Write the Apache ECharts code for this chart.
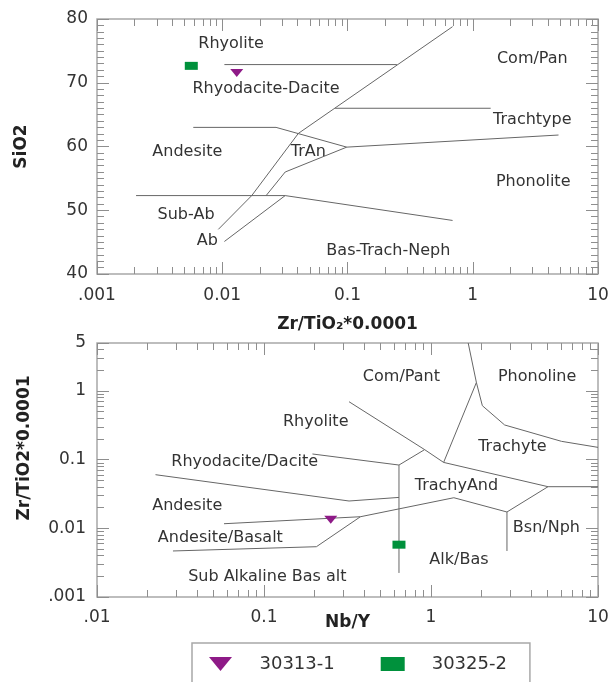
<!DOCTYPE html>
<html><head><meta charset="utf-8">
<script src="https://cdn.jsdelivr.net/npm/echarts@6/dist/echarts.min.js"></script>
<style>html,body{margin:0;padding:0;background:#fff}#c{width:610px;height:682px}</style>
</head><body><div id="c"></div>
<script>
// ---------- Tick labels ----------
const topXTickLabels = ['.001', '0.01', '0.1', '1', '10'];
const topYTickLabels = ['40', '50', '60', '70', '80'];
const botXTickLabels = ['.01', '0.1', '1', '10'];
const botYTickLabels = ['.001', '0.01', '0.1', '1', '5'];

// ---------- Top diagram: SiO2 vs Zr/TiO2*0.0001 (field boundaries) ----------
const topRhyLine       = [[0.0104, 72.85], [0.248, 72.85]];
const topDiagA         = [[0.0093, 47.0], [0.0172, 52.3], [0.0405, 62.05], [0.69, 78.8]];
const topLineB         = [[0.0224, 52.3], [0.0318, 56.0], [0.0986, 59.9]];
const topLineC         = [[0.0104, 45.1], [0.0318, 52.3], [0.69, 48.4]];
const topSubAbLine     = [[0.00205, 52.3], [0.0318, 52.3]];
const topAndesiteLine  = [[0.00587, 63.0], [0.0269, 63.0], [0.0986, 59.9]];
const topPhonoliteLine = [[0.0986, 59.9], [4.84, 61.8]];
const topTrachLine     = [[0.0796, 66.0], [1.39, 66.0]];

const topFieldNames = ['Rhyolite', 'Rhyodacite-Dacite', 'Andesite', 'TrAn', 'Sub-Ab', 'Ab', 'Bas-Trach-Neph', 'Com/Pan', 'Trachtype', 'Phonolite'];
const topFieldX     = [0.01175, 0.02234, 0.00526, 0.0486, 0.00514, 0.0076, 0.212, 2.99, 2.99, 3.04];
const topFieldY     = [76.17, 69.09, 59.1, 59.1, 49.29, 45.24, 43.67, 73.7, 64.25, 54.38];

// ---------- Bottom diagram: Zr/TiO2*0.0001 vs Nb/Y (field boundaries) ----------
const botL1   = [[0.0224, 0.0604], [0.323, 0.025], [0.643, 0.0282]];
const botL2   = [[0.195, 0.121], [0.643, 0.0835], [0.916, 0.140]];
const botVert = [[0.643, 0.0835], [0.643, 0.00224]];
const botL3   = [[0.323, 0.698], [0.916, 0.140], [1.19, 0.0912]];
const botL4   = [[1.19, 0.0912], [5.02, 0.0404], [10, 0.0404]];
const botL5   = [[1.19, 0.0912], [1.87, 1.33], [1.67, 5]];
const botL6   = [[1.87, 1.33], [2.03, 0.611], [2.76, 0.320], [6.04, 0.185], [10, 0.151]];
const botL7   = [[0.0576, 0.01167], [0.378, 0.01476], [1.37, 0.0279], [2.85, 0.0173], [5.02, 0.0404]];
const botBsn  = [[2.85, 0.0173], [2.85, 0.00468]];
const botL9   = [[0.0285, 0.00468], [0.206, 0.0054], [0.378, 0.01476]];

const botFieldNames = ['Com/Pant', 'Phonoline', 'Rhyolite', 'Trachyte', 'Rhyodacite/Dacite', 'TrachyAnd', 'Andesite', 'Bsn/Nph', 'Andesite/Basalt', 'Alk/Bas', 'Sub Alkaline Bas alt'];
const botFieldX     = [0.665, 4.32, 0.204, 3.07, 0.0766, 1.42, 0.0347, 4.91, 0.0548, 1.47, 0.1047];
const botFieldY     = [1.60, 1.60, 0.353, 0.153, 0.0925, 0.0418, 0.0216, 0.0101, 0.00731, 0.00349, 0.00195];

// ---------- Samples ----------
const sampleNames = ['30313-1', '30325-2'];
const topSampleX = [0.01306, 0.00566];
const topSampleY = [71.53, 72.65];
const botSampleX = [0.251, 0.643];
const botSampleY = [0.0133, 0.00578];

// ---------- helpers ----------
const FONT = 'DejaVu Sans';
const LINE_COLOR = '#666666';
const FRAME = '#a8a8a8';
const TICK = '#8e8e8e';
const PURPLE = '#8e1a87';
const GREEN = '#00913c';
const TRI = 'path://M0,0L23,0L11.5,14Z';
const TRI_S = 'path://M0,0L13,0L6.5,8Z';
const MAJOR_LEN = 12, MINOR_LEN = 7;

function tickStyle(len) { return { show: true, inside: true, length: len, lineStyle: { color: TICK, width: 1 } }; }
function minorStyle() { return { show: true, splitNumber: 10, length: MINOR_LEN, lineStyle: { color: TICK, width: 1 } }; }

// log10 positions of the 2..9 minor ticks of each decade
function logMinorPos(fromExp, toExp, lastMax) {
  const out = [];
  for (let e = fromExp; e <= toExp; e++) {
    for (let k = 2; k <= 9; k++) {
      const v = k * Math.pow(10, e);
      if (lastMax === undefined || v < lastMax) out.push(Math.log10(v));
    }
  }
  return out;
}
function range(a, b) { const r = []; for (let i = a; i <= b; i++) r.push(i); return r; }

// hidden anchor axis: its zero sits exactly on one edge of the grid
function anchorAxis(gridIndex, min, max) {
  return { type: 'value', gridIndex: gridIndex, min: min, max: max,
    axisLine: { show: false, onZero: false }, axisTick: { show: false }, axisLabel: { show: false }, splitLine: { show: false } };
}
// overlay axis (log10 space) that only draws inward ticks; it is placed on the edge through an anchor axis
function tickAxis(gridIndex, position, min, max, values, len, anchorIndex) {
  const t = tickStyle(len);
  t.customValues = values;
  return {
    type: 'value', gridIndex: gridIndex, position: position, min: min, max: max,
    axisLine: { show: false, onZero: true, onZeroAxisIndex: anchorIndex },
    axisLabel: { show: false }, splitLine: { show: false }, axisTick: t
  };
}
function boundary(xi, yi, data) {
  return { type: 'line', xAxisIndex: xi, yAxisIndex: yi, data: data, showSymbol: false, symbol: 'none', silent: true,
    lineStyle: { color: LINE_COLOR, width: 1 }, z: 2 };
}
function fieldLabels(xi, yi, names, xs, ys) {
  return { type: 'scatter', xAxisIndex: xi, yAxisIndex: yi, symbolSize: 0, silent: true, z: 3,
    itemStyle: { opacity: 1 },
    data: names.map((n, i) => ({ name: n, value: [xs[i], ys[i]] })),
    label: { show: true, position: 'inside', formatter: '{b}', color: '#333', fontSize: 16, fontFamily: FONT } };
}
function labelFmt(list, vals) {
  return function (v) {
    for (let i = 0; i < vals.length; i++) if (Math.abs(v - vals[i]) <= Math.abs(vals[i]) * 1e-6) return list[i];
    return '';
  };
}

const topXVals = [0.001, 0.01, 0.1, 1, 10];
const topYVals = [40, 50, 60, 70, 80];
const botXVals = [0.01, 0.1, 1, 10];
const botYVals = [0.001, 0.01, 0.1, 1, 5];

function tickLabelStyle(margin, fmt) { return { margin: margin, formatter: fmt, color: '#333', fontSize: 17, fontFamily: FONT }; }
function nameStyle(extra) { return Object.assign({ color: '#222', fontSize: 17, fontWeight: 'bold', fontFamily: FONT }, extra || {}); }

const LOG5 = Math.log10(5);

// axis index plan
// xAxis: 0 top main, 1-4 top tick overlays, 5 top left-anchor, 6 top right-anchor,
//        7 bottom main, 8-11 bottom tick overlays, 12 bottom left-anchor, 13 bottom right-anchor
// yAxis: 0 top main, 1 top left ticks, 2 top right ticks, 3 top bottom-anchor, 4 top top-anchor,
//        5 bottom main, 6-9 bottom tick overlays, 10 bottom bottom-anchor, 11 bottom top-anchor
const option = {
  animation: false,
  grid: [
    { left: 97, top: 19, width: 501, height: 255, show: true, borderColor: FRAME, borderWidth: 1.5, containLabel: false, outerBoundsMode: 'none' },
    { left: 97, top: 343, width: 501, height: 254, show: true, borderColor: FRAME, borderWidth: 1.5, containLabel: false, outerBoundsMode: 'none' }
  ],
  xAxis: [
    { type: 'log', gridIndex: 0, position: 'bottom', min: 0.001, max: 10,
      axisLine: { show: false, onZero: false }, axisTick: tickStyle(MAJOR_LEN), splitLine: { show: false },
      axisLabel: tickLabelStyle(13, labelFmt(topXTickLabels, topXVals)),
      name: 'Zr/TiO₂*0.0001', nameLocation: 'middle', nameGap: 42, nameMoveOverlap: false, nameTextStyle: nameStyle() },
    tickAxis(0, 'bottom', -3, 1, range(-3, 1), MAJOR_LEN, 3),
    tickAxis(0, 'bottom', -3, 1, logMinorPos(-3, 0), MINOR_LEN, 3),
    tickAxis(0, 'top', -3, 1, range(-3, 1), MAJOR_LEN, 4),
    tickAxis(0, 'top', -3, 1, logMinorPos(-3, 0), MINOR_LEN, 4),
    anchorAxis(0, 0, 1),
    anchorAxis(0, -1, 0),
    { type: 'log', gridIndex: 1, position: 'bottom', min: 0.01, max: 10,
      axisLine: { show: false, onZero: false }, axisTick: tickStyle(MAJOR_LEN), splitLine: { show: false },
      axisLabel: tickLabelStyle(12, labelFmt(botXTickLabels, botXVals)),
      name: 'Nb/Y', nameLocation: 'middle', nameGap: 17, nameMoveOverlap: false, nameTextStyle: nameStyle() },
    tickAxis(1, 'bottom', -2, 1, range(-2, 1), MAJOR_LEN, 10),
    tickAxis(1, 'bottom', -2, 1, logMinorPos(-2, 0), MINOR_LEN, 10),
    tickAxis(1, 'top', -2, 1, range(-2, 1), MAJOR_LEN, 11),
    tickAxis(1, 'top', -2, 1, logMinorPos(-2, 0), MINOR_LEN, 11),
    anchorAxis(1, 0, 1),
    anchorAxis(1, -1, 0)
  ],
  yAxis: [
    { type: 'value', gridIndex: 0, position: 'left', min: 40, max: 80, interval: 10,
      axisLine: { show: false, onZero: false }, axisTick: tickStyle(MAJOR_LEN), splitLine: { show: false }, minorTick: minorStyle(),
      axisLabel: tickLabelStyle(9, labelFmt(topYTickLabels, topYVals)),
      name: 'SiO2', nameLocation: 'middle', nameGap: 67, nameMoveOverlap: false, nameTextStyle: nameStyle() },
    { type: 'value', gridIndex: 0, position: 'left', min: 40, max: 80, interval: 10,
      axisLine: { show: false, onZero: true, onZeroAxisIndex: 5 }, axisTick: tickStyle(MAJOR_LEN), minorTick: minorStyle(),
      splitLine: { show: false }, axisLabel: { show: false } },
    { type: 'value', gridIndex: 0, position: 'right', min: 40, max: 80, interval: 10,
      axisLine: { show: false, onZero: true, onZeroAxisIndex: 6 }, axisTick: tickStyle(MAJOR_LEN), minorTick: minorStyle(),
      splitLine: { show: false }, axisLabel: { show: false } },
    anchorAxis(0, 0, 1),
    anchorAxis(0, -1, 0),
    { type: 'log', gridIndex: 1, position: 'left', min: 0.001, max: 5,
      axisLine: { show: false, onZero: false }, axisTick: tickStyle(MAJOR_LEN), splitLine: { show: false },
      axisLabel: tickLabelStyle(11, labelFmt(botYTickLabels, botYVals)),
      name: 'Zr/TiO2*0.0001', nameLocation: 'middle', nameGap: 64, nameMoveOverlap: false,
      nameTextStyle: nameStyle({ padding: [0, 0, 0, 44] }) },
    tickAxis(1, 'left', -3, LOG5, range(-3, 0), MAJOR_LEN, 12),
    tickAxis(1, 'left', -3, LOG5, logMinorPos(-3, 0, 5), MINOR_LEN, 12),
    tickAxis(1, 'right', -3, LOG5, range(-3, 0), MAJOR_LEN, 13),
    tickAxis(1, 'right', -3, LOG5, logMinorPos(-3, 0, 5), MINOR_LEN, 13),
    anchorAxis(1, 0, 1),
    anchorAxis(1, -1, 0)
  ],
  legend: {
    data: [{ name: sampleNames[0], icon: TRI }, { name: sampleNames[1], icon: 'rect' }],
    top: 643, left: 192,
    itemWidth: 24, itemHeight: 14, itemGap: 46,
    borderColor: FRAME, borderWidth: 1.5,
    padding: [12, 23, 14, 17],
    textStyle: { color: '#333', fontSize: 18, fontFamily: FONT, padding: [0, 0, 0, 22] },
    selectedMode: false
  },
  series: [
    boundary(0, 0, topRhyLine), boundary(0, 0, topDiagA), boundary(0, 0, topLineB), boundary(0, 0, topLineC),
    boundary(0, 0, topSubAbLine), boundary(0, 0, topAndesiteLine), boundary(0, 0, topPhonoliteLine), boundary(0, 0, topTrachLine),
    boundary(7, 5, botL1), boundary(7, 5, botL2), boundary(7, 5, botVert), boundary(7, 5, botL3), boundary(7, 5, botL4),
    boundary(7, 5, botL5), boundary(7, 5, botL6), boundary(7, 5, botL7), boundary(7, 5, botBsn), boundary(7, 5, botL9),
    fieldLabels(0, 0, topFieldNames, topFieldX, topFieldY),
    fieldLabels(7, 5, botFieldNames, botFieldX, botFieldY),
    { name: sampleNames[0], type: 'scatter', xAxisIndex: 0, yAxisIndex: 0, symbol: TRI_S, symbolSize: [13, 8],
      itemStyle: { color: PURPLE, opacity: 1 }, z: 5, data: [[topSampleX[0], topSampleY[0]]] },
    { name: sampleNames[1], type: 'scatter', xAxisIndex: 0, yAxisIndex: 0, symbol: 'rect', symbolSize: [13, 8],
      itemStyle: { color: GREEN, opacity: 1 }, z: 5, data: [[topSampleX[1], topSampleY[1]]] },
    { name: sampleNames[0], type: 'scatter', xAxisIndex: 7, yAxisIndex: 5, symbol: TRI_S, symbolSize: [13, 8],
      itemStyle: { color: PURPLE, opacity: 1 }, z: 5, data: [[botSampleX[0], botSampleY[0]]] },
    { name: sampleNames[1], type: 'scatter', xAxisIndex: 7, yAxisIndex: 5, symbol: 'rect', symbolSize: [13, 8],
      itemStyle: { color: GREEN, opacity: 1 }, z: 5, data: [[botSampleX[1], botSampleY[1]]] }
  ]
};
const chart = echarts.init(document.getElementById('c'), null, { renderer: 'canvas' });
chart.setOption(option);
</script>
</body></html>
